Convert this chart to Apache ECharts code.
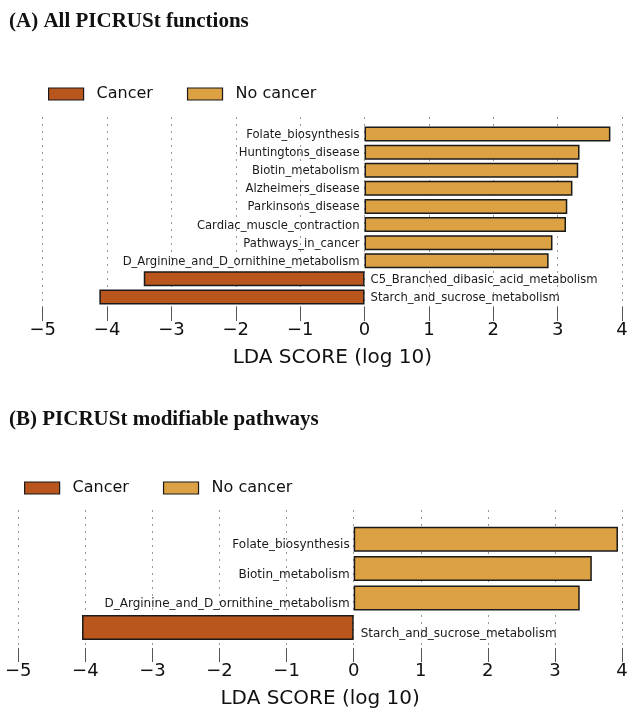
<!DOCTYPE html>
<html>
<head>
<meta charset="utf-8">
<script src="https://cdn.jsdelivr.net/npm/echarts@6/dist/echarts.min.js"></script>
<style>
  html, body { margin: 0; padding: 0; background: #fff; }
  #chart { width: 641px; height: 718px; }
</style>
</head>
<body>
<div id="chart"></div>
<script>
// panel A - all PICRUSt functions (top to bottom)
const namesA = [
  'Folate_biosynthesis', 'Huntingtons_disease', 'Biotin_metabolism',
  'Alzheimers_disease', 'Parkinsons_disease', 'Cardiac_muscle_contraction',
  'Pathways_in_cancer', 'D_Arginine_and_D_ornithine_metabolism',
  'C5_Branched_dibasic_acid_metabolism', 'Starch_and_sucrose_metabolism'
];
const ldaA = [3.82, 3.34, 3.32, 3.23, 3.15, 3.13, 2.92, 2.86, -3.43, -4.12];

// panel B - modifiable pathways
const namesB = [
  'Folate_biosynthesis', 'Biotin_metabolism',
  'D_Arginine_and_D_ornithine_metabolism', 'Starch_and_sucrose_metabolism'
];
const ldaB = [3.94, 3.55, 3.37, -4.05];

const xTicks = [-5, -4, -3, -2, -1, 0, 1, 2, 3, 4];
const xTickLabels = ['\u22125', '\u22124', '\u22123', '\u22122', '\u22121', '0', '1', '2', '3', '4'];
const groups = ['Cancer', 'No cancer'];

const colCancer = '#B8561E';
const colNo = '#DBA142';
const FONT = 'DejaVu Sans';
const XMIN = xTicks[0], XMAX = xTicks[xTicks.length - 1];

const chart = echarts.init(document.getElementById('chart'));

// frame grid: dotted verticals + inward ticks, bottom axis with labels
const frameBottom = gi => ({
  type: 'value', gridIndex: gi, position: 'bottom', min: XMIN, max: XMAX, interval: 1,
  axisLine: { show: false },
  axisTick: { show: true, inside: true, length: 7, lineStyle: { color: '#555', width: 1 } },
  splitLine: { show: true, showMinLine: true, showMaxLine: true,
    lineStyle: { type: [2, 5], color: '#999', width: 1 } },
  axisLabel: { margin: 7, fontSize: 18, fontFamily: FONT, color: '#111',
    showMinLabel: true, showMaxLabel: true,
    formatter: v => xTickLabels[xTicks.indexOf(v)] },
  name: 'LDA SCORE (log 10)', nameLocation: 'middle', nameGap: 34,
  nameTextStyle: { fontSize: 20, fontFamily: FONT, color: '#111' }
});

const frameTop = gi => ({
  type: 'value', gridIndex: gi, position: 'top', min: XMIN, max: XMAX, interval: 1,
  axisLine: { show: false },
  axisTick: { show: true, inside: true, length: 7, lineStyle: { color: '#555', width: 1 } },
  splitLine: { show: false }, axisLabel: { show: false }
});

const barAxis = gi => ({ type: 'value', gridIndex: gi, min: XMIN, max: XMAX, show: false });

const barSeries = (name, ax, names, vals, neg, color, barW, fs, dy, dist) => ({
  name: name, type: 'bar', xAxisIndex: ax, yAxisIndex: ax,
  barWidth: barW, barGap: '-100%',
  data: vals.map(v => (neg ? (v < 0 ? v : '-') : (v > 0 ? v : '-'))),
  itemStyle: { color: color, borderColor: '#1a1a1a', borderWidth: 1.5 },
  label: {
    show: true, position: neg ? 'right' : 'left', distance: dist, offset: [0, dy],
    fontSize: fs, fontFamily: FONT, color: '#1a1a1a',
    formatter: p => names[p.dataIndex]
  },
  silent: true
});

const legendAt = (left, top) => ({
  data: groups, left: left, top: top, padding: 0,
  icon: 'rect', itemWidth: 35, itemHeight: 12, itemGap: 34,
  itemStyle: { borderColor: '#1a1a1a', borderWidth: 1.2 },
  textStyle: { fontSize: 16, fontFamily: FONT, color: '#111', padding: [0, 0, 0, 8] },
  selectedMode: false
});

const titleStyle = { fontFamily: 'Liberation Serif', fontWeight: 'bold', fontSize: 21, color: '#111' };

chart.setOption({
  animation: false,
  color: [colCancer, colNo],
  title: [
    { text: '(A) All PICRUSt functions', left: 4, top: 6, textStyle: titleStyle },
    { text: '(B) PICRUSt modifiable pathways', left: 4, top: 404, textStyle: titleStyle }
  ],
  legend: [legendAt(48, 86), legendAt(24, 480)],
  grid: [
    { left: 42.7, right: 19, top: 117, height: 197 },    // 0: A frame
    { left: 42.7, right: 19, top: 125, height: 181 },    // 1: A bars
    { left: 18.3, right: 19, top: 510, height: 145 },    // 2: B frame
    { left: 18.3, right: 19, top: 524.5, height: 117.6 } // 3: B bars
  ],
  xAxis: [frameBottom(0), barAxis(1), frameBottom(2), barAxis(3), frameTop(0), frameTop(2)],
  yAxis: [
    { type: 'value', gridIndex: 0, min: 0, max: 1, show: false },
    { type: 'category', gridIndex: 1, data: namesA, inverse: true, show: false },
    { type: 'value', gridIndex: 2, min: 0, max: 1, show: false },
    { type: 'category', gridIndex: 3, data: namesB, inverse: true, show: false },
    { type: 'value', gridIndex: 0, min: 0, max: 1, show: false },
    { type: 'value', gridIndex: 2, min: 0, max: 1, show: false }
  ],
  series: [
    barSeries('Cancer', 1, namesA, ldaA, true, colCancer, 15, 11.6, 1, 6),
    barSeries('No cancer', 1, namesA, ldaA, false, colNo, 15, 11.6, 1, 5),
    barSeries('Cancer', 3, namesB, ldaB, true, colCancer, 25, 12, 6, 7),
    barSeries('No cancer', 3, namesB, ldaB, false, colNo, 25, 12, 6, 4)
  ]
});
</script>
</body>
</html>
